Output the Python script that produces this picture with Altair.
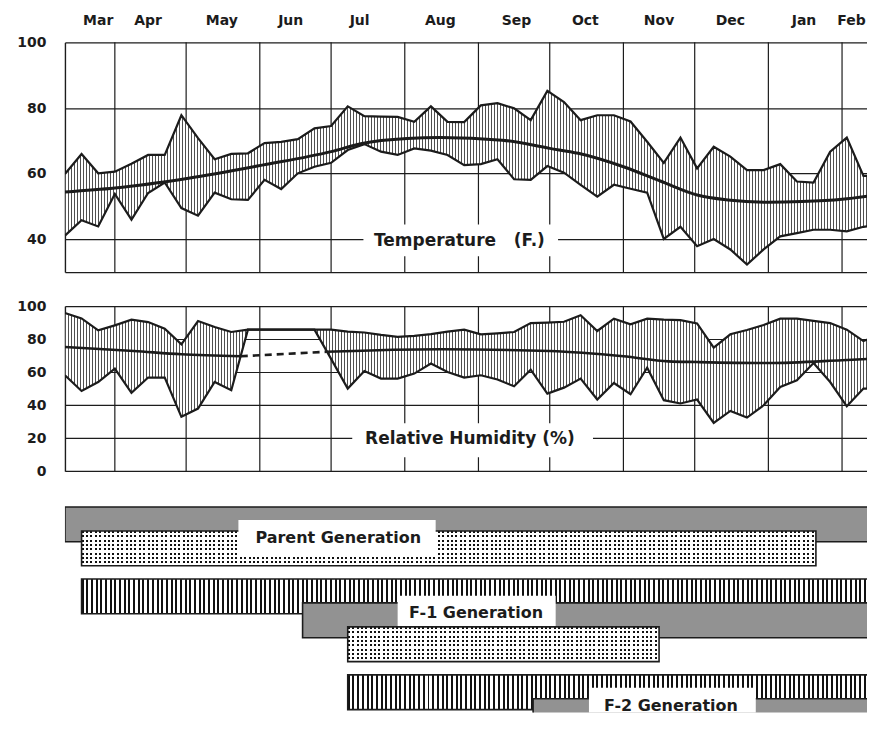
import altair as alt
import pandas as pd

# ---------------- data ----------------
# x positions are days counted from 1 March
month_names = ["Mar", "Apr", "May", "Jun", "Jul", "Aug", "Sep", "Oct", "Nov", "Dec", "Jan", "Feb"]
month_label_day = [24, 45, 76, 105, 134, 168, 200, 229, 260, 290, 321, 341]
month_start_day = [31, 61, 92, 122, 153, 184, 214, 245, 275, 306, 337]

week_day = [10, 17, 24, 31, 38, 45, 52, 59, 66, 73, 80, 87, 94, 101, 108, 115, 122, 129, 136, 143,
            150, 157, 164, 171, 178, 185, 192, 199, 206, 213, 220, 227, 234, 241, 248, 255, 262, 269,
            276, 283, 290, 297, 304, 311, 318, 325, 332, 339, 346, 351]

temp_max = [59.9, 66, 60.1, 60.6, 63, 65.7, 65.7, 77.8, 70.8, 64.4, 66, 66.2, 69.3, 69.7, 70.5, 73.8,
            74.5, 80.5, 77.5, 77.4, 77.3, 75.8, 80.5, 75.8, 75.7, 80.8, 81.5, 79.9, 76.3, 85.2, 81.8,
            76.3, 77.8, 77.8, 75.9, 69.7, 63.3, 71, 61.6, 68.2, 65.2, 61.1, 61.1, 62.9, 57.6, 57.3,
            66.7, 71, 59.3, 59.3]
temp_min = [41.1, 45.8, 43.9, 53.8, 46, 54.1, 57.3, 49.5, 47.2, 54.2, 52.2, 52, 58.1, 55.3, 60.1, 62.1,
            63.3, 67.2, 69, 66.7, 65.7, 67.7, 67, 65.7, 62.6, 62.9, 64.4, 58.3, 58.1, 62.3, 60.3, 56.6,
            53, 56.6, 55.4, 54.2, 40.1, 43.8, 37.9, 40.1, 36.9, 32.3, 36.9, 40.9, 41.9, 42.9, 42.9,
            42.4, 43.8, 44.2]
temp_mean_day = [10, 31, 62, 93, 122, 135, 154, 168, 194, 214, 226, 245, 261, 276, 289, 306, 320, 337, 351]
temp_mean = [54.4, 55.6, 58.6, 62.6, 66.7, 69.2, 70.7, 71.0, 70.2, 67.7, 66.2, 62.1, 57.6, 53.5, 52.0,
             51.3, 51.5, 52.2, 53.5]

hum_max = [95.8, 92.5, 85.3, 88.3, 91.8, 90.3, 86.3, 76.8, 90.9, 87.3, 84.3, 85.7, 85.7, 85.7, 85.7,
           85.7, 85.7, 84.5, 84, 82.5, 81.3, 82, 83, 84.5, 85.7, 82.9, 83.5, 84.3, 89.7, 90, 90.5, 94.4,
           84.9, 92.4, 88.9, 92.4, 91.8, 91.5, 89.5, 74.8, 82.9, 85.5, 88.5, 92.4, 92.4, 91, 89.7, 85.7,
           78.8, 81.7]
hum_min = [58.1, 48.6, 54, 62.1, 47.4, 56.7, 56.7, 32.9, 37.9, 54, 49, 85.7, 85.7, 85.7, 85.7, 85.7, 68,
           50, 60.7, 56.1, 56.1, 59.1, 65.2, 60.1, 56.7, 58.1, 55.5, 51.4, 61.5, 47, 50.6, 56.1, 43.4,
           53.4, 46.6, 62.7, 43, 41, 43.4, 29.2, 36.5, 32.5, 39.9, 51, 55, 65.5, 54, 39.3, 50, 50]
hum_mean_day = [10, 39, 59, 84, 120, 168, 214, 245, 264, 276, 306, 337, 351]
hum_mean = [75.2, 72.8, 70.8, 69.6, 72.3, 73.8, 72.8, 69.6, 66.5, 66.1, 65.5, 67.2, 68.2]
hum_mean_part = ["a", "a", "a", "a", "b", "b", "b", "b", "b", "b", "b", "b", "b"]
hum_gap_day = [84, 120]
hum_gap_mean = [69.6, 72.3]

bar_gen = ["Parent", "Parent", "F-1", "F-1", "F-1", "F-2", "F-2"]
bar_pattern = ["stipple", "dots", "stripes", "stipple", "dots", "stripes", "stipple"]
bar_start = [10, 17, 17, 110, 129, 129, 207]
bar_end = [360, 326, 360, 360, 260, 360, 360]
bar_lane = [0, 1, 3, 4, 5, 7, 8]

gen_names = ["Parent Generation", "F-1 Generation", "F-2 Generation"]
gen_label_day = [125, 183, 265]
gen_label_lane = [1.29, 4.42, 8.29]
gen_box_start = [83, 150, 230.5]
gen_box_end = [166, 216.5, 300.7]
gen_box_top = [0.54, 3.7, 7.54]
gen_box_bottom = [2.0, 4.96, 8.96]

# ---------------- styling ----------------
FONT = "DejaVu Sans"
INK = "#1c1c1c"
X_DOM = [10, 347.5]
W = 803
PX_PER_DAY = W / (X_DOM[1] - X_DOM[0])
BAR_H = 1.45
xs = alt.Scale(domain=X_DOM, nice=False, zero=False)


def stripe_stops(n, ink, paper, frac):
    stops = []
    for i in range(n):
        a, b, c = i / n, (i + frac) / n, (i + 1) / n
        stops += [alt.GradientStop(color=ink, offset=a), alt.GradientStop(color=ink, offset=b),
                  alt.GradientStop(color=paper, offset=b), alt.GradientStop(color=paper, offset=c)]
    return stops


def xgrad(width_px, period, ink_px, ink, paper):
    n = max(1, round(width_px / period))
    frac = min(0.95, ink_px / (width_px / n))
    return alt.LinearGradient(gradient="linear", stops=stripe_stops(n, ink, paper, frac),
                              x1=0, x2=1, y1=0, y2=0)


def ygrad(n, ink, paper, frac):
    return alt.LinearGradient(gradient="linear", stops=stripe_stops(n, ink, paper, frac),
                              x1=0, x2=0, y1=0, y2=1)


def weather_panel(hi, lo, mean_layers, ydom, yvals, label, box, label_pos):
    ys = alt.Scale(domain=ydom, nice=False, zero=False)
    yaxis = alt.Axis(values=yvals, grid=True, gridColor=INK, gridWidth=1.2, domain=True,
                     domainColor=INK, domainWidth=1.4, ticks=False, labelPadding=19, labelFont=FONT,
                     labelFontSize=14, labelFontWeight="bold", labelColor=INK, title=None,
                     labelExpr="datum.value == 30 ? '' : datum.label")
    df = pd.DataFrame({"day": week_day, "hi": hi, "lo": lo})
    X = alt.X("day:Q", scale=xs, axis=None)

    def Y(field):
        return alt.Y(field, scale=ys, axis=yaxis, title=None)

    vgrid = alt.Chart(pd.DataFrame({"day": month_start_day})).mark_rule(
        color=INK, strokeWidth=1.2).encode(
        x=X, y=alt.YDatum(ydom[0], scale=ys, axis=yaxis), y2=alt.Y2Datum(ydom[1]))
    area_w = (week_day[-1] - week_day[0]) * PX_PER_DAY
    area = alt.Chart(df).mark_area(fill=xgrad(area_w, 3.0, 1.0, "#505050", "#ffffff"), clip=True).encode(
        x=X, y=Y("hi:Q"), y2="lo:Q")
    lines = alt.Chart(df).transform_fold(["hi", "lo"], as_=["k", "v"]).mark_line(
        color=INK, strokeWidth=2.2, clip=True).encode(x=X, y=Y("v:Q"), detail="k:N")
    means = [m(X, Y) for m in mean_layers]
    bx = pd.DataFrame({"x1": [box[0]], "x2": [box[1]], "y1": [box[2]], "y2": [box[3]]})
    boxl = alt.Chart(bx).mark_rect(fill="white").encode(
        x=alt.X("x1:Q", scale=xs, axis=None), x2="x2:Q", y=Y("y1:Q"), y2="y2:Q")
    lab = alt.Chart(pd.DataFrame({"t": [label], "d": [label_pos[0]], "v": [label_pos[1]]})).mark_text(
        font=FONT, fontSize=17, fontWeight="bold", color=INK).encode(
        x=alt.X("d:Q", scale=xs, axis=None), y=Y("v:Q"), text="t:N")
    return [vgrid, area, lines] + means + [boxl, lab]


# temperature panel
def t_mean(X, Y):
    return alt.Chart(pd.DataFrame({"day": temp_mean_day, "v": temp_mean})).mark_line(
        color=INK, strokeWidth=3, interpolate="monotone", clip=True).encode(x=X, y=Y("v:Q"))


t_layers = weather_panel(temp_max, temp_min, [t_mean], [30, 100], [30, 40, 60, 80, 100],
                         "Temperature\u00a0\u00a0\u00a0(F.)", [135.6, 217.5, 44.5, 34.8], [176, 39.6])
months = alt.Chart(pd.DataFrame({"m": month_names, "d": month_label_day})).mark_text(
    font=FONT, fontSize=14, fontWeight="bold", color=INK, baseline="middle").encode(
    x=alt.X("d:Q", scale=xs, axis=None), y=alt.value(-21), text="m:N")
panel_t = alt.layer(*t_layers, months).properties(width=W, height=230)


# humidity panel
def h_mean(X, Y):
    return alt.Chart(pd.DataFrame({"day": hum_mean_day, "v": hum_mean, "p": hum_mean_part})).mark_line(
        color=INK, strokeWidth=2.6, interpolate="monotone", clip=True).encode(
        x=X, y=Y("v:Q"), detail="p:N")


def h_gap(X, Y):
    return alt.Chart(pd.DataFrame({"day": hum_gap_day, "v": hum_gap_mean})).mark_line(
        color=INK, strokeWidth=2.6, strokeDash=[7, 5], clip=True).encode(x=X, y=Y("v:Q"))


h_layers = weather_panel(hum_max, hum_min, [h_mean, h_gap], [0, 100], [0, 20, 40, 60, 80, 100],
                         "Relative Humidity (%)", [130.9, 232.2, 29, 8.5], [180.4, 19.5])
panel_h = alt.layer(*h_layers).properties(width=W, height=165.3)

# generations panel
ys_c = alt.Scale(domain=[-0.05, 8.575], reverse=True, nice=False, zero=False)
Xc = alt.X("s:Q", scale=xs, axis=None)
Yc = alt.Y("lane:Q", scale=ys_c, axis=None)
bar_layers = []
for g, pat, s, e, ln in zip(bar_gen, bar_pattern, bar_start, bar_end, bar_lane):
    one = alt.Chart(pd.DataFrame({"g": [g], "s": [s], "e": [e], "lane": [ln]})).transform_calculate(
        bot="datum.lane + %s" % BAR_H)
    enc = dict(x=Xc, x2="e:Q", y=Yc, y2="bot:Q")
    wpx = (e - s) * PX_PER_DAY
    if pat == "stipple":
        bar_layers.append(one.mark_rect(fill="#929292", clip=True).encode(**enc))
    else:
        bar_layers.append(one.mark_rect(fill="white", clip=True).encode(**enc))
        if pat == "stripes":
            bar_layers.append(one.mark_rect(
                fill=xgrad(wpx, 4.7, 2.0, "#111111", "rgba(255,255,255,0)"), clip=True).encode(**enc))
        else:
            bar_layers.append(one.mark_rect(
                fill=xgrad(wpx, 4.4, 2.0, "#111111", "rgba(255,255,255,0)"), clip=True).encode(**enc))
            bar_layers.append(one.mark_rect(
                fill=ygrad(8, "rgba(255,255,255,0)", "#ffffff", 0.46), clip=True).encode(**enc))
    bar_layers.append(one.mark_rect(fillOpacity=0, stroke=INK, strokeWidth=1.6, clip=True).encode(**enc))

gbox = pd.DataFrame({"x1": gen_box_start, "x2": gen_box_end, "y1": gen_box_top, "y2": gen_box_bottom})
gen_boxes = alt.Chart(gbox).mark_rect(fill="white", clip=True).encode(
    x=alt.X("x1:Q", scale=xs, axis=None), x2="x2:Q",
    y=alt.Y("y1:Q", scale=ys_c, axis=None), y2="y2:Q")
gen_text = alt.Chart(pd.DataFrame({"t": gen_names, "d": gen_label_day, "lane": gen_label_lane})).mark_text(
    font=FONT, fontSize=16, fontWeight="bold", color=INK).encode(
    x=alt.X("d:Q", scale=xs, axis=None), y=alt.Y("lane:Q", scale=ys_c, axis=None), text="t:N")
panel_c = alt.layer(*bar_layers, gen_boxes, gen_text).properties(width=W, height=207)

chart = alt.vconcat(panel_t, panel_h, panel_c, spacing=34, bounds="flush").properties(
    padding={"left": 8, "top": 6, "right": 0, "bottom": 0}, background="white"
).configure_view(stroke="transparent", strokeWidth=0)

chart.save("out.html", embed_options={"renderer": "svg", "actions": False})
